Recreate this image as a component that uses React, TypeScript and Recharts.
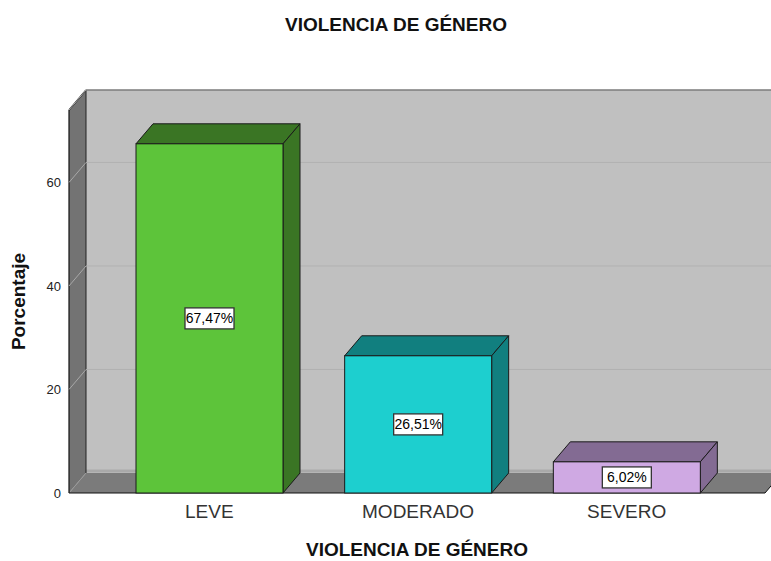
import React from 'react';
import { BarChart, Bar, XAxis, YAxis, CartesianGrid, LabelList, Label } from 'recharts';

const categories = ['LEVE', 'MODERADO', 'SEVERO'];
const percentages = [67.47, 26.51, 6.02];
const yTicks = [0, 20, 40, 60];
const yDomain = [0, 74];
const frontColors = ['#5dc43a', '#1dcfcf', '#cfa9e3'];
const sideColors = ['#3a7524', '#117f7f', '#836b93'];

const data = categories.map((c, i) => ({ category: c, value: percentages[i] }));

const DX = 17;
const DY = 20;
const FONT = '"Liberation Sans", Arial, sans-serif';

const renderWalls = (p: any) => {
  if (p.index !== 0) return null;
  const left = p.x;
  const top = p.y;
  const right = p.x + p.width;
  const bottom = p.y + p.height;
  return (
    <g key="walls">
      <rect x={left + DX} y={top - DY} width={p.width} height={p.height} fill="#c0c0c0" />
      <polygon
        points={`${left},${top} ${left + DX},${top - DY} ${left + DX},${bottom - DY} ${left},${bottom}`}
        fill="#737373"
      />
      <polygon
        points={`${left},${bottom} ${left + DX},${bottom - DY} ${right + DX},${bottom - DY} ${right},${bottom}`}
        fill="#7b7b7b"
      />
      <line x1={left + DX} y1={bottom - DY - 2} x2={right + DX} y2={bottom - DY - 2} stroke="#a9a9a9" strokeWidth={3} />
      <line x1={left} y1={bottom} x2={left + DX} y2={bottom - DY} stroke="#9a9a9a" strokeWidth={1} />
      <line x1={left} y1={top} x2={left} y2={bottom} stroke="#111" strokeWidth={1.2} />
      <line x1={left} y1={top} x2={left + DX} y2={top - DY} stroke="#111" strokeWidth={1.2} />
      <line x1={left + DX} y1={top - DY} x2={right + DX} y2={top - DY} stroke="#111" strokeWidth={1.2} />
      <line x1={left + DX} y1={top - DY} x2={left + DX} y2={bottom - DY} stroke="#222" strokeWidth={1} />
      <line x1={left} y1={bottom} x2={right} y2={bottom} stroke="#111" strokeWidth={1.2} />
      <line x1={right} y1={bottom} x2={right + DX} y2={bottom - DY} stroke="#111" strokeWidth={1} />
    </g>
  );
};

const renderGridLine = (p: any) => {
  const bottom = p.y + p.height;
  if (Math.abs(p.y1 - bottom) < 0.5) return null;
  return (
    <g key={`gl-${p.index}`}>
      <line x1={p.x1 + DX} y1={p.y1 - DY} x2={p.x2 + DX} y2={p.y2 - DY} stroke="#b1b1b1" strokeWidth={1} />
      <line x1={p.x1} y1={p.y1} x2={p.x1 + DX} y2={p.y1 - DY} stroke="#a8a8a8" strokeWidth={1} />
    </g>
  );
};

const Bar3D = (p: any) => {
  const { x, y, width: w, height: h, index } = p;
  if (h == null || w == null) return null;
  const f = frontColors[index];
  const s = sideColors[index];
  const stroke = '#1a1a1a';
  return (
    <g>
      <polygon
        points={`${x},${y} ${x + DX},${y - DY} ${x + w + DX},${y - DY} ${x + w},${y}`}
        fill={s}
        stroke={stroke}
        strokeWidth={1}
        strokeLinejoin="round"
      />
      <polygon
        points={`${x + w},${y} ${x + w + DX},${y - DY} ${x + w + DX},${y + h - DY} ${x + w},${y + h}`}
        fill={s}
        stroke={stroke}
        strokeWidth={1}
        strokeLinejoin="round"
      />
      <rect x={x} y={y} width={w} height={h} fill={f} stroke={stroke} strokeWidth={1} />
    </g>
  );
};

const renderValueLabel = (p: any) => {
  const vb = p.viewBox && p.viewBox.width != null ? p.viewBox : p;
  const cx = vb.x + vb.width / 2;
  const cy = vb.y + vb.height / 2;
  const txt = Number(p.value).toFixed(2).replace('.', ',') + '%';
  return (
    <g>
      <rect x={cx - 24.5} y={cy - 10.5} width={49} height={21} fill="#fff" stroke="#333" strokeWidth={1.3} />
      <text x={cx} y={cy} dy="0.36em" textAnchor="middle" fontSize={14} fontFamily={FONT} fill="#000">
        {txt}
      </text>
    </g>
  );
};

export default function App() {
  return (
    <div style={{ position: 'relative', width: 771, height: 561, background: '#fff' }}>
      <style>{'body{margin:0;}'}</style>
      <BarChart
        width={771}
        height={561}
        data={data}
        margin={{ top: 110, right: 6, bottom: 8, left: 9 }}
        barSize={147}
      >
        <CartesianGrid horizontal={renderWalls} vertical={false} stroke="none" />
        <CartesianGrid horizontal={renderGridLine} vertical={false} />
        <XAxis
          dataKey="category"
          height={60}
          axisLine={false}
          tickLine={false}
          tickMargin={6}
          padding={{ left: 36, right: 34 }}
          tick={{ fontSize: 19, fontFamily: FONT, fill: '#333' }}
        >
          <Label
            content={(p: any) => {
              const vb = p.viewBox;
              return (
                <text
                  x={vb.x + vb.width / 2}
                  y={vb.y + vb.height + 3}
                  textAnchor="middle"
                  fontSize={19}
                  fontWeight="bold"
                  fontFamily={FONT}
                  fill="#111"
                >
                  VIOLENCIA DE GÉNERO
                </text>
              );
            }}
          />
        </XAxis>
        <YAxis
          width={60}
          domain={yDomain}
          ticks={yTicks}
          axisLine={false}
          tickLine={false}
          tick={{ fontSize: 13, fontFamily: FONT, fill: '#222' }}
        >
          <Label
            content={(p: any) => {
              const vb = p.viewBox;
              const lx = vb.x + 16;
              const cy = vb.y + vb.height / 2;
              return (
                <text
                  x={lx}
                  y={cy}
                  transform={`rotate(-90, ${lx}, ${cy})`}
                  textAnchor="middle"
                  fontSize={19}
                  fontWeight="bold"
                  fontFamily={FONT}
                  fill="#111"
                >
                  Porcentaje
                </text>
              );
            }}
          />
        </YAxis>
        <Bar dataKey="value" shape={Bar3D} isAnimationActive={false}>
          <LabelList dataKey="value" content={renderValueLabel} />
        </Bar>
      </BarChart>
      <svg
        width={771}
        height={60}
        style={{ position: 'absolute', left: 0, top: 0, pointerEvents: 'none' }}
      >
        <text x={396} y={31} textAnchor="middle" fontSize={19} fontWeight="bold" fontFamily={FONT} fill="#111">
          VIOLENCIA DE GÉNERO
        </text>
      </svg>
    </div>
  );
}
